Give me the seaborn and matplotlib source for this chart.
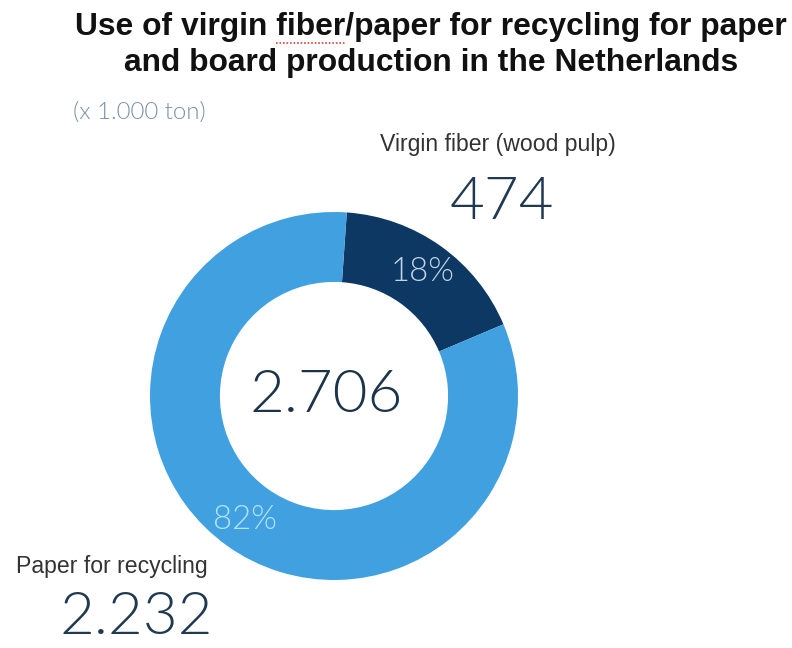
import matplotlib
matplotlib.use("Agg")
import matplotlib.pyplot as plt
from matplotlib.lines import Line2D
from matplotlib.font_manager import FontProperties
import seaborn as sns

# Data (x 1.000 ton)
categories = ["Virgin fiber (wood pulp)", "Paper for recycling"]
values = [474, 2232]
slice_colors = ["#0c3863", "#41a0df"]
pct_colors = ["#c2d4e6", "#b3e4f8"]
title_lines = ["Use of virgin fiber/paper for recycling for paper",
               "and board production in the Netherlands"]
unit_note = "(x 1.000 ton)"

sns.set_theme(style="white")
plt.rcParams["font.family"] = ["Lato", "DejaVu Sans"]

LIGHT = 300
SANS = ["Liberation Sans", "DejaVu Sans"]

W, H = 792, 648
fig = plt.figure(figsize=(W / 72, H / 72), dpi=72)
fig.patch.set_facecolor("white")


def fx(px):
    return px / W


def fy(py):
    return 1 - py / H


def dotted(n):
    return f"{n:,}".replace(",", ".")


# Donut: centre (334, 396) px, outer radius 184 px
cx, cy, r = 334, 396, 184
ax = fig.add_axes([fx(cx - r), fy(cy + r), 2 * r / W, 2 * r / H])
palette = sns.color_palette(slice_colors)
wedges, texts, autotexts = ax.pie(
    values,
    colors=palette,
    startangle=86,
    counterclock=False,
    radius=1.0,
    wedgeprops=dict(width=0.38, linewidth=0),
    autopct=lambda p: f"{p:.0f}%",
    pctdistance=0.83,
    textprops=dict(fontsize=33, fontweight=LIGHT),
)
for t, c in zip(autotexts, pct_colors):
    t.set_color(c)
ax.set_xlim(-1, 1)
ax.set_ylim(-1, 1)
ax.set_aspect("equal")
ax.axis("off")

ax.text(-0.04, 0.0, dotted(sum(values)), ha="center", va="center",
        fontsize=60, fontweight=LIGHT, color="#1c3349")

# Title, sized so that the first line spans 712 px
renderer = fig.canvas.get_renderer()
probe = FontProperties(family=SANS, weight="bold", size=30)
w30, _, _ = renderer.get_text_width_height_descent(title_lines[0], probe, ismath=False)
tsize = 30 * 712 / w30
tprop = FontProperties(family=SANS, weight="bold", size=tsize)
fig.text(fx(431), fy(35), title_lines[0], ha="center", va="baseline",
         fontproperties=tprop, color="#111111")
fig.text(fx(431), fy(71), title_lines[1], ha="center", va="baseline",
         fontproperties=tprop, color="#111111")

# red dotted spell-check underline below "fiber"
line_w, _, _ = renderer.get_text_width_height_descent(title_lines[0], tprop, ismath=False)
pre_w, _, _ = renderer.get_text_width_height_descent("Use of virgin ", tprop, ismath=False)
word_w, _, _ = renderer.get_text_width_height_descent("fiber", tprop, ismath=False)
left = 431 - line_w / 2
fig.add_artist(Line2D([fx(left + pre_w), fx(left + pre_w + word_w)], [fy(43), fy(43)],
                      color="#d9332b", linestyle=(0, (1, 1.2)), linewidth=1.6))

# Unit note
fig.text(fx(139), fy(112), unit_note, ha="center", va="center",
         fontsize=24, fontweight=LIGHT, color="#7a90a3")

# Slice labels and values
fig.text(fx(498), fy(145), categories[0], ha="center", va="center",
         fontsize=23, family=SANS, color="#333333")
fig.text(fx(502), fy(203), dotted(values[0]), ha="center", va="center",
         fontsize=60, fontweight=LIGHT, color="#1f3950")

fig.text(fx(112), fy(567), categories[1], ha="center", va="center",
         fontsize=23, family=SANS, color="#333333")
fig.text(fx(136), fy(617), dotted(values[1]), ha="center", va="center",
         fontsize=60, fontweight=LIGHT, color="#1f3950")

fig.savefig("out.png", dpi=72, facecolor="white")
